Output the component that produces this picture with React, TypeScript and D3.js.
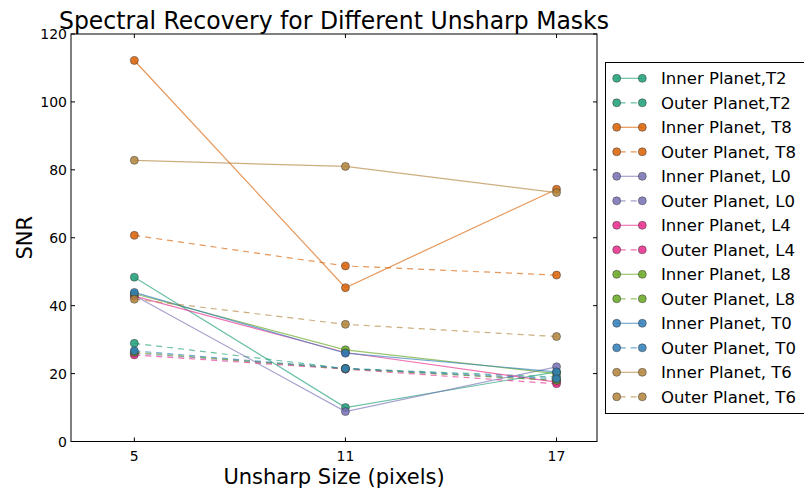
import React from "react";
import * as d3 from "d3";

const xValues = [5, 11, 17];
const xTicks = [5, 11, 17];
const yTicks = [0, 20, 40, 60, 80, 100, 120];

const seriesNames = [
  "Inner Planet,T2",
  "Outer Planet,T2",
  "Inner Planet, T8",
  "Outer Planet, T8",
  "Inner Planet, L0",
  "Outer Planet, L0",
  "Inner Planet, L4",
  "Outer Planet, L4",
  "Inner Planet, L8",
  "Outer Planet, L8",
  "Inner Planet, T0",
  "Outer Planet, T0",
  "Inner Planet, T6",
  "Outer Planet, T6",
];

const innerT2 = [48.4, 10.0, 20.5];
const outerT2 = [28.9, 21.5, 19.0];
const innerT8 = [112.2, 45.3, 74.3];
const outerT8 = [60.7, 51.7, 49.0];
const innerL0 = [43.0, 8.8, 22.0];
const outerL0 = [26.0, 21.5, 18.0];
const innerL4 = [42.8, 26.2, 17.5];
const outerL4 = [25.5, 21.3, 17.0];
const innerL8 = [43.5, 27.0, 20.0];
const outerL8 = [26.3, 21.4, 18.0];
const innerT0 = [43.9, 26.0, 20.5];
const outerT0 = [26.7, 21.5, 18.5];
const innerT6 = [82.8, 81.0, 73.3];
const outerT6 = [41.9, 34.5, 30.9];

const seriesValues = [
  innerT2, outerT2, innerT8, outerT8, innerL0, outerL0, innerL4,
  outerL4, innerL8, outerL8, innerT0, outerT0, innerT6, outerT6,
];

const colors = [
  "#1b9e77", "#1b9e77", "#d95f02", "#d95f02", "#7570b3", "#7570b3",
  "#e7298a", "#e7298a", "#66a61e", "#66a61e", "#2b7bb9", "#2b7bb9",
  "#b0833a", "#b0833a",
];

const W = 804;
const H = 492;
const left = 71;
const right = 597;
const top = 34;
const bottom = 441.5;

export default function App() {
  const x = d3.scaleLinear().domain([3.2, 18.15]).range([left, right]);
  const y = d3.scaleLinear().domain([0, 120]).range([bottom, top]);
  const line = d3
    .line<number>()
    .x((_, i) => x(xValues[i]))
    .y((d) => y(d));

  const font = "'DejaVu Sans', sans-serif";
  const legX = 605.5;
  const legY = 62.5;
  const legStep = 24.5;

  return (
    <svg
      width={W}
      height={H}
      style={{ position: "absolute", left: 0, top: 0, background: "#fff" }}
      fontFamily={font}
    >
      <rect x={0} y={0} width={W} height={H} fill="#fff" />
      {seriesValues.map((vals, si) => (
        <g key={si}>
          <path
            d={line(vals) || ""}
            fill="none"
            stroke={colors[si]}
            strokeOpacity={0.65}
            strokeWidth={1.2}
            strokeDasharray={si % 2 === 1 ? "6,5" : undefined}
          />
          {vals.map((v, i) => (
            <circle
              key={i}
              cx={x(xValues[i])}
              cy={y(v)}
              r={4}
              fill={colors[si]}
              fillOpacity={0.85}
              stroke="#333"
              strokeOpacity={0.6}
              strokeWidth={0.8}
            />
          ))}
        </g>
      ))}
      <rect
        x={left}
        y={top}
        width={right - left}
        height={bottom - top}
        fill="none"
        stroke="#000"
        strokeWidth={1}
      />
      {xTicks.map((t) => (
        <g key={"x" + t}>
          <line x1={x(t)} x2={x(t)} y1={bottom} y2={bottom - 4} stroke="#000" />
          <line x1={x(t)} x2={x(t)} y1={top} y2={top + 4} stroke="#000" />
          <text
            x={x(t)}
            y={bottom + 19}
            textAnchor="middle"
            fontSize={14}
            fill="#000"
          >
            {t}
          </text>
        </g>
      ))}
      {yTicks.map((t) => (
        <g key={"y" + t}>
          <line x1={left} x2={left + 4} y1={y(t)} y2={y(t)} stroke="#000" />
          <line x1={right} x2={right - 4} y1={y(t)} y2={y(t)} stroke="#000" />
          <text
            x={left - 4}
            y={y(t) + 5}
            textAnchor="end"
            fontSize={14}
            fill="#000"
          >
            {t}
          </text>
        </g>
      ))}
      <text
        x={(left + right) / 2}
        y={29}
        textAnchor="middle"
        fontSize={24}
        textLength={550}
        lengthAdjust="spacingAndGlyphs"
        fill="#000"
      >
        Spectral Recovery for Different Unsharp Masks
      </text>
      <text
        x={(left + right) / 2}
        y={484}
        textAnchor="middle"
        fontSize={21}
        fill="#000"
      >
        Unsharp Size (pixels)
      </text>
      <text
        transform={`translate(32, ${(top + bottom) / 2}) rotate(-90)`}
        textAnchor="middle"
        fontSize={21}
        fill="#000"
      >
        SNR
      </text>
      <rect
        x={legX}
        y={legY}
        width={W - legX + 10}
        height={351}
        fill="#fff"
        stroke="#000"
        strokeWidth={1}
      />
      {seriesNames.map((name, i) => {
        const cy = 78.3 + i * legStep;
        return (
          <g key={"l" + i}>
            <line
              x1={616.7}
              x2={642.3}
              y1={cy}
              y2={cy}
              stroke={colors[i]}
              strokeOpacity={0.65}
              strokeWidth={1.2}
              strokeDasharray={i % 2 === 1 ? "6,5" : undefined}
              strokeDashoffset={i % 2 === 1 ? -3 : 0}
            />
            <circle cx={616.7} cy={cy} r={4} fill={colors[i]} fillOpacity={0.85} stroke="#333" strokeOpacity={0.6} strokeWidth={0.8} />
            <circle cx={642.3} cy={cy} r={4} fill={colors[i]} fillOpacity={0.85} stroke="#333" strokeOpacity={0.6} strokeWidth={0.8} />
            <text x={661} y={cy + 6} fontSize={16.5} fill="#000">
              {name}
            </text>
          </g>
        );
      })}
    </svg>
  );
}
